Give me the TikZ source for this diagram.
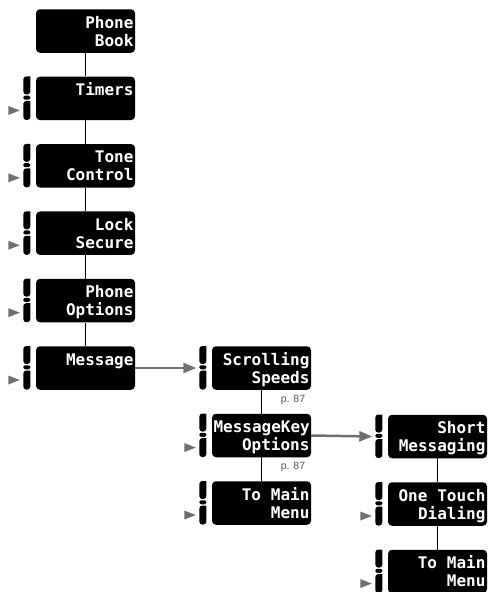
\documentclass[tikz,border=0pt]{standalone}
\usepackage{fontspec}
\usetikzlibrary{arrows.meta}
\newfontfamily\lcdfont{DejaVu Sans Mono}
\newfontfamily\notefont{Liberation Sans}
\definecolor{cuegray}{HTML}{707070}
\definecolor{notegray}{HTML}{555555}
\newcommand{\lcdgap}{\hspace{0.62em}}
\tikzset{
  screen/.style={
    fill=black, rounded corners=4pt, text=white,
    font=\lcdfont\bfseries\fontsize{16}{18}\selectfont,
    text width=96pt, align=right, inner xsep=1.5pt, inner ysep=3.25pt,
    text height=15.5pt, text depth=21.5pt,
    minimum width=99pt, minimum height=43.5pt
  },
  link/.style={line width=1.3pt},
  feed/.style={cuegray, line width=2.5pt, -{Triangle[length=13pt,width=10pt]}},
  note/.style={notegray, font=\notefont\fontsize{10.5}{12}\selectfont},
  keys/.pic={
    \fill (-5.5,0) [rounded corners=3pt] -- (-12.5,0) -- (-12.5,18) -- (-5.5,18) [sharp corners] -- cycle;
    \fill[rounded corners=1.5pt] (-12.5,19.2) rectangle (-5.5,23.2);
    \fill (-5.5,24.5) [rounded corners=3pt] -- (-12.5,24.5) -- (-12.5,43.5) -- (-5.5,43.5) [sharp corners] -- cycle;
  },
  cue/.pic={
    \fill[cuegray] (-27.5,29.5) -- (-16,34) -- (-27.5,38.5) -- cycle;
  }
}

\begin{document}
\begin{tikzpicture}[x=1pt, y=-1pt]
  \useasboundingbox (0,0) rectangle (490,592);

  % Main menu column
  \node[screen] (book) at (85.5,31) {Phone\\Book};
  \node[screen] (timers) at (85.5,98.4) {Timers};
  \node[screen] (tone) at (85.5,165.8) {Tone\\Control};
  \node[screen] (lock) at (85.5,233.2) {Lock\\Secure};
  \node[screen] (options) at (85.5,300.6) {Phone\\Options};
  \node[screen] (message) at (85.5,368) {Message};

  % Message submenu
  \node[screen] (speeds) at (261.5,368) {Scrolling\\Speeds};
  \node[screen] (keyopts) at (261.5,435.5) {MessageKey\\Options};
  \node[screen] (backA) at (261.5,503) {To\lcdgap Main\\Menu};

  % MessageKey options submenu
  \node[screen] (short) at (437.5,436.5) {Short\\Messaging};
  \node[screen] (touch) at (437.5,504) {One\lcdgap Touch\\Dialing};
  \node[screen] (backB) at (437.5,571.5) {To\lcdgap Main\\Menu};

  % Soft key icons
  \pic at (timers.north west) {keys};
  \pic at (tone.north west) {keys};
  \pic at (lock.north west) {keys};
  \pic at (options.north west) {keys};
  \pic at (message.north west) {keys};
  \pic at (speeds.north west) {keys};
  \pic at (keyopts.north west) {keys};
  \pic at (backA.north west) {keys};
  \pic at (short.north west) {keys};
  \pic at (touch.north west) {keys};
  \pic at (backB.north west) {keys};
  \pic at (timers.north west) {cue};
  \pic at (tone.north west) {cue};
  \pic at (lock.north west) {cue};
  \pic at (options.north west) {cue};
  \pic at (message.north west) {cue};
  \pic at (keyopts.north west) {cue};
  \pic at (backA.north west) {cue};
  \pic at (touch.north west) {cue};
  \pic at (backB.north west) {cue};

  % Links
  \draw[link] (book) -- (timers);
  \draw[link] (timers) -- (tone);
  \draw[link] (tone) -- (lock);
  \draw[link] (lock) -- (options);
  \draw[link] (options) -- (message);
  \draw[link] (speeds) -- (keyopts);
  \draw[link] (keyopts) -- (backA);
  \draw[link] (short) -- (touch);
  \draw[link] (touch) -- (backB);
  \draw[feed] (message.east) -- ([xshift=-15.5pt]speeds.west);
  \draw[feed] (keyopts.east) -- ([xshift=-15.5pt]short.west);

  % Page references
  \node[note] (pageA) at (293,400) {p. 87};
  \node[note] (pageB) at (293,467) {p. 87};

\end{tikzpicture}
\end{document}
